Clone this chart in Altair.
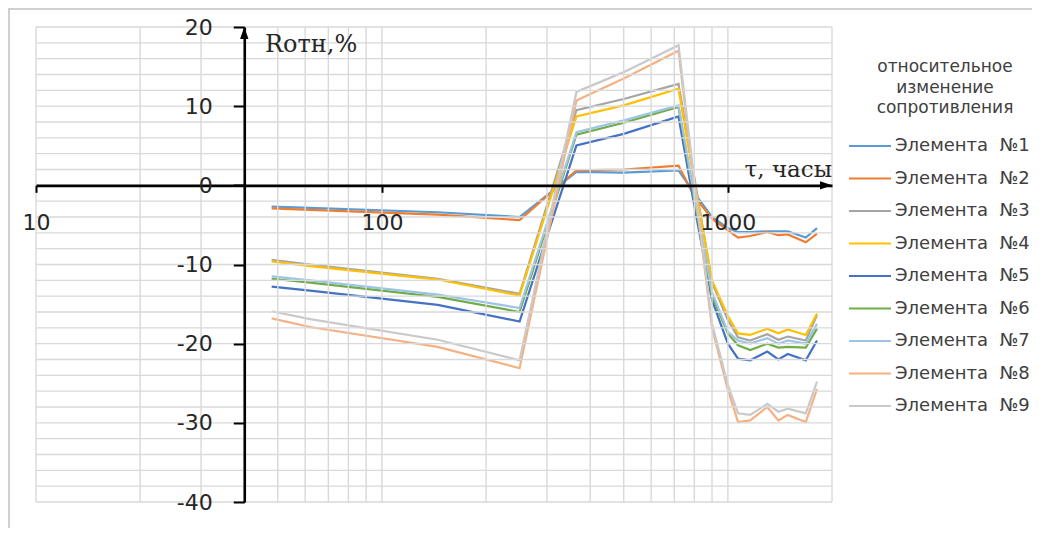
import math
import altair as alt
import pandas as pd

# time, hours
hours = [48, 62, 145, 250, 365, 500, 720, 800, 900, 1000, 1070, 1160, 1300, 1400, 1490, 1680, 1810]

s1 = [-2.7, -2.85, -3.4, -4.0, 1.7, 1.6, 1.9, -1.0, -4.0, -5.4, -5.9, -5.9, -5.8, -5.8, -5.8, -6.6, -5.4]
s2 = [-2.9, -3.1, -3.7, -4.4, 1.9, 2.0, 2.5, -1.4, -4.2, -5.7, -6.6, -6.4, -5.9, -6.3, -6.2, -7.2, -6.1]
s3 = [-9.4, -10.0, -11.8, -13.7, 9.5, 10.9, 12.8, 1.0, -12.3, -17.0, -19.2, -19.6, -18.8, -19.5, -19.1, -19.6, -16.4]
s4 = [-9.6, -10.2, -11.9, -13.9, 8.7, 10.1, 12.2, 0.4, -12.0, -16.5, -18.7, -18.9, -18.1, -18.7, -18.2, -18.9, -16.2]
s5 = [-12.8, -13.3, -15.1, -17.2, 5.05, 6.5, 8.7, -2.6, -14.5, -20.0, -21.9, -22.1, -21.0, -22.0, -21.3, -22.1, -19.6]
s6 = [-11.8, -12.3, -14.1, -16.0, 6.4, 7.9, 9.9, -1.7, -14.0, -18.7, -20.2, -20.8, -20.0, -20.5, -20.4, -20.5, -18.1]
s7 = [-11.5, -12.0, -13.8, -15.5, 6.7, 8.2, 10.1, -1.4, -13.5, -18.5, -19.6, -20.0, -19.3, -20.0, -19.6, -20.0, -17.5]
s8 = [-16.8, -17.9, -20.4, -23.1, 10.7, 13.5, 17.0, 0.0, -18.0, -25.8, -29.9, -29.7, -28.0, -29.7, -29.0, -29.9, -25.7]
s9 = [-15.9, -16.9, -19.5, -22.1, 11.8, 14.3, 17.7, 0.5, -17.5, -25.2, -28.8, -29.0, -27.6, -28.6, -28.2, -28.8, -24.8]

names = ["Элемента\u00a0 №%d" % i for i in range(1, 10)]
colors = ["#5B9BD5", "#ED7D31", "#A5A5A5", "#FFC000", "#4472C4",
          "#70AD47", "#9DC3E6", "#F4B183", "#C9C9C9"]
legend_title = ["относительное", "изменение", "сопротивления"]

x_ticks = [10, 100, 1000]
y_ticks = [-40, -30, -20, -10, 0, 10, 20]
grid_x = [10, 20, 30, 40, 50, 60, 70, 80, 90, 100, 200, 300, 400, 500, 600,
          700, 800, 900, 1000, 2000]
grid_y = list(range(-40, 22, 2))

series = [s1, s2, s3, s4, s5, s6, s7, s8, s9]
rows = []
for name, vals in zip(names, series):
    for t, v in zip(hours, vals):
        rows.append({"t": t, "r": v, "s": name})
df = pd.DataFrame(rows)

W, H = 796, 475
XMIN, XMAX, YMIN, YMAX = 10, 2000, -40, 20
X_CROSS = 40  # where the vertical axis crosses
xs = alt.Scale(type="log", domain=[XMIN, XMAX], nice=False)
ys = alt.Scale(domain=[YMIN, YMAX], nice=False, zero=False)

y_axis_off = -W * math.log10(X_CROSS / XMIN) / math.log10(XMAX / XMIN)
x_axis_off = -(H - H * (YMAX - 0) / (YMAX - YMIN))

tick_font = "DejaVu Sans"

x_axis = alt.Axis(
    values=x_ticks, format="d", offset=x_axis_off, title=None, grid=False,
    domainColor="black", domainWidth=2.6, tickColor="black", tickWidth=2,
    tickSize=7, labelPadding=20, labelFont=tick_font, labelFontSize=22,
    labelColor="#262626", labelFlush=False, labelOverlap=False, zindex=1)
y_axis = alt.Axis(
    values=y_ticks, offset=y_axis_off, title=None, grid=False,
    labelExpr="toString(datum.value)",
    domainColor="black", domainWidth=2.6, tickColor="black", tickWidth=2,
    tickSize=11, labelPadding=21, labelFont=tick_font, labelFontSize=22,
    labelColor="#262626", labelFlush=False, labelOverlap=False, zindex=1)

lines = alt.Chart(df).mark_line(strokeWidth=2.2).encode(
    x=alt.X("t:Q", scale=xs, axis=x_axis),
    y=alt.Y("r:Q", scale=ys, axis=y_axis),
    color=alt.Color("s:N", scale=alt.Scale(domain=names, range=colors),
                    sort=names,
                    legend=alt.Legend(
                        title=legend_title, orient="none", legendX=825, legendY=32,
                        symbolType="M-3,0H3", symbolSize=196, symbolStrokeWidth=2,
                        labelFont="DejaVu Sans", labelFontSize=18, labelColor="#404040",
                        labelOffset=16, rowPadding=14.5,
                        titleFont="DejaVu Sans", titleFontSize=17, titleFontWeight="normal",
                        titleColor="#404040", titleAlign="center", titleAnchor="middle",
                        titleLineHeight=20.5, titlePadding=20)),
    order=alt.Order("t:Q"),
)

gx = alt.Chart(pd.DataFrame({"t": grid_x})).mark_rule(
    color="#D9D9D9", strokeWidth=1.4
).encode(x=alt.X("t:Q", scale=xs, axis=x_axis))

gy = alt.Chart(pd.DataFrame({"r": grid_y})).mark_rule(
    color="#D9D9D9", strokeWidth=1.4
).encode(y=alt.Y("r:Q", scale=ys, axis=y_axis))

arrow_x = alt.Chart(pd.DataFrame({"t": [XMAX], "r": [0]})).mark_point(
    shape="M-2,-0.7L0,0L-2,0.7Z", size=144, filled=True, color="black", opacity=1
).encode(x=alt.X("t:Q", scale=xs, axis=x_axis), y=alt.Y("r:Q", scale=ys, axis=y_axis))

arrow_y = alt.Chart(pd.DataFrame({"t": [X_CROSS], "r": [YMAX]})).mark_point(
    shape="M-0.7,2L0,0L0.7,2Z", size=144, filled=True, color="black", opacity=1
).encode(x=alt.X("t:Q", scale=xs, axis=x_axis), y=alt.Y("r:Q", scale=ys, axis=y_axis))

one = pd.DataFrame({"a": [0]})
title_y = alt.Chart(one).mark_text(
    text="Rотн,%", font="DejaVu Serif", fontSize=24, align="left",
    baseline="alphabetic", color="#262626"
).encode(x=alt.value(229), y=alt.value(25))
title_x = alt.Chart(one).mark_text(
    text="τ, часы", font="DejaVu Serif", fontSize=23, align="right",
    baseline="alphabetic", color="#262626"
).encode(x=alt.value(796), y=alt.value(150))

border_top = alt.Chart(one).mark_rule(color="#D0D0D0", strokeWidth=2).encode(
    x=alt.value(-28), x2=alt.value(1000), y=alt.value(-18), y2=alt.value(-18))
border_left = alt.Chart(one).mark_rule(color="#D0D0D0", strokeWidth=2).encode(
    x=alt.value(-27), x2=alt.value(-27), y=alt.value(-18), y2=alt.value(505))

chart = alt.layer(
    lines, border_top, border_left, gx, gy, arrow_x, arrow_y, title_y, title_x
).properties(
    width=W, height=H,
    autosize=alt.AutoSizeParams(type="none"),
    padding={"left": 28, "top": 19, "right": 200, "bottom": 26},
    background="white",
).configure_view(strokeWidth=0)

chart.save("out.html", embed_options={"renderer": "svg", "actions": False})
